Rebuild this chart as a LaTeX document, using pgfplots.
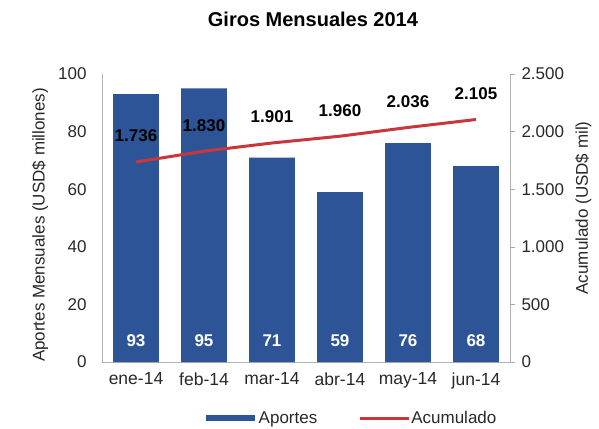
\documentclass[border=0pt]{standalone}
\usepackage{fontspec}
\setmainfont{Liberation Sans}
\usepackage{pgfplots}
\pgfplotsset{compat=1.18}
\definecolor{barblue}{RGB}{44,84,150}
\definecolor{linered}{RGB}{200,55,60}
\definecolor{txt}{RGB}{40,40,40}
\newcommand{\fs}{\fontsize{17}{20}\selectfont}
\begin{document}
\begin{tikzpicture}[x=1pt,y=1pt]
\path[use as bounding box] (0,0) rectangle (599,428);
\begin{axis}[
  at={(102pt,66pt)}, anchor=south west,
  width=408pt, height=288pt, scale only axis,
  xmin=-0.5, xmax=5.5, ymin=0, ymax=100,
  axis y line*=left, axis x line*=bottom,
  axis line style={draw=gray!60, line width=0.8pt, -},
  xtick={0,...,5},
  xticklabels={ene-14,feb-14,mar-14,abr-14,may-14,jun-14},
  ytick={0,20,...,100},
  major tick length=0pt,
  tick label style={font=\fs, text=txt},
  xticklabel style={font=\fontsize{17.5}{20}\selectfont, yshift=-7pt},
  yticklabel style={xshift=-12pt},
  /pgf/number format/assume math mode=true,
  ylabel={Aportes Mensuales (USD\$ millones)},
  ylabel style={at={(axis description cs:-0.152,0.476)}, anchor=center, font=\fs, text=txt},
  title={Giros Mensuales 2014},
  title style={at={(axis description cs:0.517,1)}, anchor=center, yshift=49pt, font=\fontsize{20}{24}\selectfont\bfseries},
]
\addplot[ybar, bar width=0.67, fill=barblue, draw=none] coordinates {(0,93)(1,95)(2,71)(3,59)(4,76)(5,68)};
\addplot[draw=none, mark=none, nodes near coords, point meta=explicit symbolic,
  nodes near coords style={text=white, font=\fs\bfseries, anchor=center}]
  coordinates {(0,7.3)[93] (1,7.3)[95] (2,7.3)[71] (3,7.3)[59] (4,7.3)[76] (5,7.3)[68]};
\end{axis}
\begin{axis}[
  at={(102pt,66pt)}, anchor=south west,
  width=408pt, height=288pt, scale only axis,
  xmin=-0.5, xmax=5.5, ymin=0, ymax=2500,
  axis y line*=right, axis x line=none,
  axis line style={draw=gray!60, line width=0.8pt, -},
  ytick={0,500,...,2500},
  major tick length=5pt, tick align=outside,
  tick style={draw=gray!70},
  tick label style={font=\fs, text=txt},
  yticklabel style={xshift=3pt},
  /pgf/number format/assume math mode=true,
  /pgf/number format/1000 sep={.},
  ylabel={Acumulado (USD\$ mil)},
  ylabel style={at={(axis description cs:1.18,0.535)}, anchor=center, font=\fs, text=txt},
  legend image code/.code={\draw[#1] (0pt,0pt) -- (49pt,0pt);},
  legend style={draw=none, fill=none, at={(axis description cs:0.608,-0.195)}, anchor=center,
    font=\fs, text=txt, legend columns=2,
    /tikz/every even column/.append style={column sep=40pt},
    nodes={inner sep=1pt}},
  legend cell align=left,
]
\addlegendimage{line width=6pt, barblue}
\addlegendentry{Aportes}
\addplot[linered, line width=3pt, mark=none, nodes near coords, point meta=explicit symbolic,
  nodes near coords style={text=black, font=\fs\bfseries, anchor=center, yshift=26pt}]
  coordinates {(0,1736)[1.736] (1,1830)[1.830] (2,1901)[1.901] (3,1960)[1.960] (4,2036)[2.036] (5,2105)[2.105]};
\addlegendentry{Acumulado}
\end{axis}
\end{tikzpicture}
\end{document}
